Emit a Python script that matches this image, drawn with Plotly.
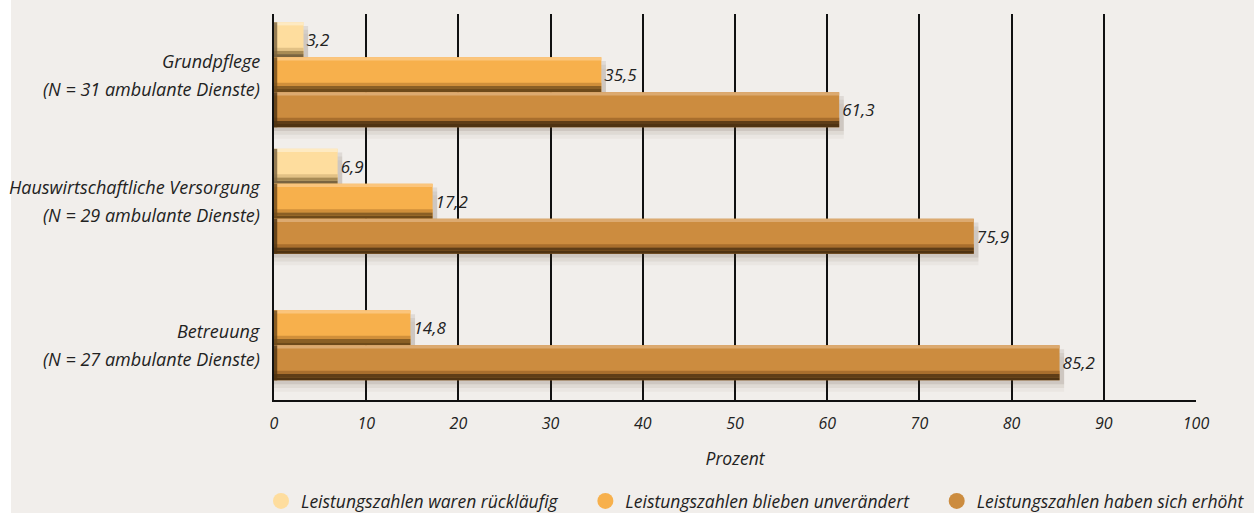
import plotly.graph_objects as go

# ---------------- data ----------------
categories = ["Grundpflege", "Hauswirtschaftliche Versorgung", "Betreuung"]
category_notes = ["(N = 31 ambulante Dienste)", "(N = 29 ambulante Dienste)", "(N = 27 ambulante Dienste)"]
series_names = [
    "Leistungszahlen waren rückläufig",
    "Leistungszahlen blieben unverändert",
    "Leistungszahlen haben sich erhöht",
]
ruecklaeufig = [3.2, 6.9, None]
unveraendert = [35.5, 17.2, 14.8]
erhoeht = [61.3, 75.9, 85.2]
x_ticks = [0, 10, 20, 30, 40, 50, 60, 70, 80, 90, 100]
x_title = "Prozent"

series_values = [ruecklaeufig, unveraendert, erhoeht]

# ---------------- style ----------------
BG = "#f1eeeb"
colors = ["#fedd9e", "#f7b04c", "#cc8c3f"]
highlights = ["#feeac2", "#fbc57c", "#dcaa70"]
shades = ["#e2c185", "#d08f3a", "#a86e2d"]
darks = ["#a88b55", "#8a5f25", "#5e3d17"]
edges = ["#7a6440", "#6e4a1a", "#4f3312"]
FONT = "Open Sans"
TXT = "#222"

BAR_W = 0.2765
EDGE = 0.35
SHADOW_EXT = 0.5
start = -1.5 * BAR_W
ypos = list(range(len(categories)))

L, R, T, B, W, H = 274, 58, 14, 113, 1254, 513
PW, PH = W - L - R, H - T - B

fig = go.Figure()


def fmt(v):
    return "" if v is None else f"{v:.1f}".replace(".", ",")


def plus(vals, d):
    return [None if v is None else v + d for v in vals]


def edge(vals):
    return [None if v is None else min(v, EDGE) for v in vals]


# shadows
for i, vals in enumerate(series_values):
    o = start + i * BAR_W
    for d, a in [(0.03, 0.10), (0.06, 0.07), (0.09, 0.04)]:
        fig.add_trace(go.Bar(
            x=plus(vals, SHADOW_EXT), y=ypos, orientation="h", width=BAR_W, offset=o + d,
            marker=dict(color=f"rgba(70,50,30,{a})", line=dict(width=0)),
            showlegend=False, hoverinfo="skip"))

# main bars + 3d shading
for i, vals in enumerate(series_values):
    o = start + i * BAR_W
    fig.add_trace(go.Bar(
        x=vals, y=ypos, orientation="h", width=BAR_W, offset=o,
        marker=dict(color=colors[i], line=dict(width=0)),
        text=[fmt(v) for v in vals], textposition="outside",
        textfont=dict(family=FONT, size=17, color=TXT, style="italic"),
        cliponaxis=False, showlegend=False, hoverinfo="skip"))
    for (d, w, c) in [(0.0, 0.025, highlights[i]),
                      (BAR_W - 0.075, 0.025, shades[i]),
                      (BAR_W - 0.05, 0.025, darks[i]),
                      (BAR_W - 0.025, 0.025, edges[i])]:
        fig.add_trace(go.Bar(
            x=vals, y=ypos, orientation="h", width=w, offset=o + d,
            marker=dict(color=c, line=dict(width=0)),
            showlegend=False, hoverinfo="skip"))
    # dark left edge
    fig.add_trace(go.Bar(
        x=edge(vals), y=ypos, orientation="h", width=BAR_W, offset=o,
        marker=dict(color=edges[i], opacity=0.8, line=dict(width=0)),
        showlegend=False, hoverinfo="skip"))

# legend entries (circles)
for i, name in enumerate(series_names):
    pad = "\u00a0" * 5 if i < len(series_names) - 1 else ""
    fig.add_trace(go.Scatter(
        x=[None], y=[None], mode="markers", name=name + pad,
        marker=dict(symbol="circle", size=16, color=colors[i])))

# category labels
annotations = []
for j, (cat, note) in enumerate(zip(categories, category_notes)):
    present = [k for k, vals in enumerate(series_values) if vals[j] is not None]
    center = start + (present[0] + present[-1] + 1) * BAR_W / 2
    for text, shift in [(cat, 14), (note, -14)]:
        annotations.append(dict(
            x=0, xref="paper", xanchor="right", xshift=-12,
            y=j + center, yref="y", yshift=shift, yanchor="middle",
            text=text, showarrow=False, align="right",
            font=dict(family=FONT, size=18, color=TXT, style="italic")))

# page background (white strip at far left)
shapes = [dict(
    type="rect", xref="paper", yref="paper", layer="below",
    x0=(11 - L) / PW, x1=(W - L) / PW, y0=-B / PH, y1=1 + T / PH,
    fillcolor=BG, line=dict(width=0))]

fig.update_layout(
    width=W, height=H,
    margin=dict(l=L, r=R, t=T, b=B, autoexpand=False),
    paper_bgcolor="white", plot_bgcolor=BG,
    barmode="overlay",
    annotations=annotations,
    shapes=shapes,
    xaxis=dict(
        range=[0, 100], tickvals=x_ticks, ticktext=[str(t) for t in x_ticks],
        showgrid=True, gridcolor="#111", gridwidth=2,
        zeroline=False, showline=True, linecolor="#111", linewidth=2,
        ticks="", ticklabelstandoff=8, automargin=False,
        tickfont=dict(family=FONT, size=16, color=TXT, style="italic"),
        title=dict(text=x_title, standoff=20,
                   font=dict(family=FONT, size=17.5, color=TXT, style="italic")),
    ),
    yaxis=dict(
        range=[2.57, -0.48], showticklabels=False, showgrid=False,
        zeroline=False, showline=True, linecolor="#111", linewidth=2, ticks="",
        automargin=False,
    ),
    legend=dict(
        orientation="h", x=-0.0141, xanchor="left",
        y=-(501 - (H - B)) / PH, yanchor="middle",
        font=dict(family=FONT, size=17.5, color=TXT, style="italic"),
        bgcolor="rgba(0,0,0,0)", itemwidth=30,
    ),
)

fig.write_html("out.html")
